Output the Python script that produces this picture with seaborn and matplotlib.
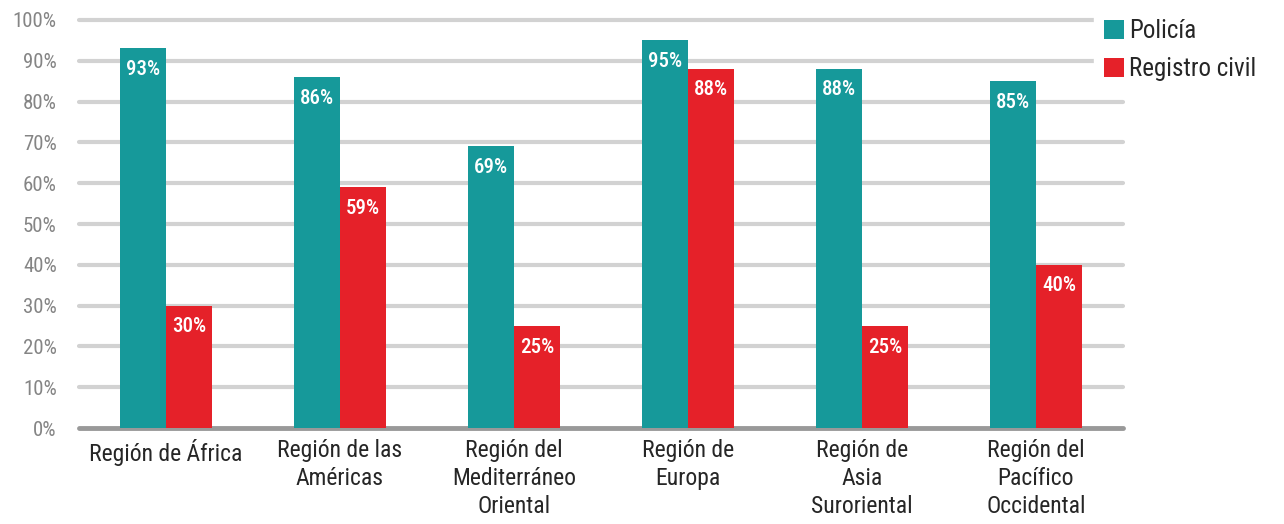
import matplotlib
matplotlib.use("Agg")
import matplotlib.pyplot as plt
from matplotlib import font_manager
import seaborn as sns
import pandas as pd

# datos del gráfico
regiones = ["Región de África", "Región de las\nAméricas", "Región del\nMediterráneo\nOriental",
            "Región de\nEuropa", "Región de\nAsia\nSuroriental", "Región del\nPacífico\nOccidental"]
policia = [93, 86, 69, 95, 88, 85]
registro_civil = [30, 59, 25, 88, 25, 40]
series = ["Policía", "Registro civil"]
yticks = list(range(0, 101, 10))

colores = ["#16999a", "#e52129"]

sns.set_theme(style="white")
nombres = {f.name for f in font_manager.fontManager.ttflist}
fuente = "DejaVu Sans"
for cand in ["Roboto Condensed", "Liberation Sans Narrow", "Open Sans Condensed", "Roboto"]:
    if cand in nombres:
        fuente = cand
        break
plt.rcParams["font.family"] = [fuente, "DejaVu Sans"]

df = pd.DataFrame({
    "region": regiones * 2,
    "valor": policia + registro_civil,
    "serie": [series[0]] * len(regiones) + [series[1]] * len(regiones),
})

fig = plt.figure(figsize=(12.84, 5.24), dpi=100)
ax = fig.add_axes([0.0615, 0.183, 0.813, 0.779])

sns.barplot(data=df, x="region", y="valor", hue="serie", palette=colores,
            width=0.53, gap=0, saturation=1, ax=ax, errorbar=None, zorder=3,
            linewidth=0)

# rejilla
for t in yticks:
    ax.axhline(t, color="#999999" if t == 0 else "#d2d2d2", lw=3.5 if t == 0 else 3,
               zorder=1, clip_on=False)

ax.set_ylim(0, 100)
ax.set_xlim(-0.5, 5.5)
ax.set_yticks(yticks)
ax.set_yticklabels([f"{t}%" for t in yticks], color="#858585", fontsize=15)
ax.tick_params(axis="y", length=0, pad=16)
ax.tick_params(axis="x", length=0, pad=8, labelsize=17)
for lab in ax.get_xticklabels():
    lab.set_verticalalignment("top")
    lab.set_linespacing(1.28)
ax.set_xlabel("")
ax.set_ylabel("")
for s in ax.spines.values():
    s.set_visible(False)

# etiquetas de valor dentro de las barras
for cont, vals in zip(ax.containers, [policia, registro_civil]):
    ax.bar_label(cont, labels=[f"{v}%" for v in vals], padding=-22, color="white",
                 fontsize=15, fontweight="medium", zorder=4)

handles, labels = ax.get_legend_handles_labels()
leg = ax.legend(handles, labels, loc="upper left", bbox_to_anchor=(0.965, 1.045), frameon=True,
                fontsize=18, handlelength=0.8, handleheight=0.8, handletextpad=0.2,
                labelspacing=0.55, borderaxespad=0.3, fancybox=False, edgecolor="white",
                framealpha=1)

fig.savefig("out.png", dpi=100)
